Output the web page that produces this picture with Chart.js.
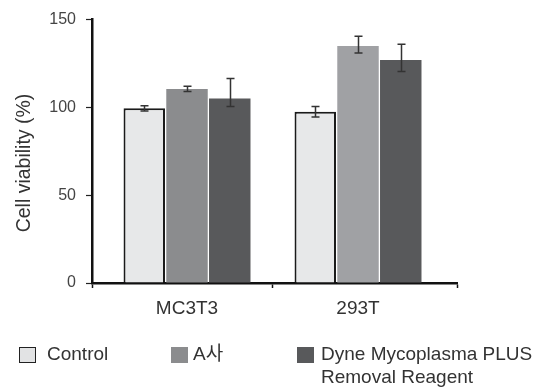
<!DOCTYPE html>
<html>
<head>
<meta charset="utf-8">
<script src="https://cdn.jsdelivr.net/npm/chart.js@4.4.1/dist/chart.umd.min.js"></script>
<style>
  html, body { margin: 0; padding: 0; background: #fff; }
  #wrap { position: relative; width: 554px; height: 392px; overflow: hidden;
          font-family: "Liberation Sans", Arial, "Noto Sans CJK KR", sans-serif; color: #333; }
  canvas { position: absolute; left: 0; top: 0; }
  .lg { position: absolute; font-size: 19px; line-height: 23px; white-space: nowrap; color: #333; }
  .box { position: absolute; width: 17px; height: 16px; box-sizing: border-box; }
</style>
</head>
<body>
<div id="wrap">
  <canvas id="c" width="554" height="392"></canvas>
  <div class="box" style="left:19px;top:347px;background:#e2e3e4;border:1.5px solid #222;"></div>
  <div class="lg" style="left:47px;top:342px;">Control</div>
  <div class="box" style="left:171px;top:347px;background:#8b8c8e;"></div>
  <div class="lg" style="left:193px;top:342px;">A사</div>
  <div class="box" style="left:297px;top:347px;background:#58595b;"></div>
  <div class="lg" style="left:321px;top:342px;">Dyne Mycoplasma PLUS<br>Removal Reagent</div>
</div>
<script>
const categories = ['MC3T3', '293T'];
const yTicks = [0, 50, 100, 150];
const yTitle = 'Cell viability (%)';

const controlValues = [99.5, 97.5];
const controlErrHigh = [101, 100.5];
const controlErrLow = [98, 94.5];

const aValues = [110.5, 135];
const aErrHigh = [112, 140.5];
const aErrLow = [109, 131];

const dyneValues = [105, 127];
const dyneErrHigh = [116.5, 136];
const dyneErrLow = [100.5, 120.5];

const errHigh = [controlErrHigh, aErrHigh, dyneErrHigh];
const errLow = [controlErrLow, aErrLow, dyneErrLow];

// category positions on a linear index axis (group centres at 0 and 1)
const xMin = -0.5556, xMax = 1.5789;
const xBoundaries = [xMin, 0.5, xMax];

const FONT = '"Liberation Sans", Arial, "Noto Sans CJK KR", sans-serif';
const toPoints = vals => vals.map((v, i) => ({ x: i, y: v }));

const errorBars = {
  id: 'errorBars',
  afterDatasetsDraw(chart) {
    const ctx = chart.ctx;
    const y = chart.scales.y;
    ctx.save();
    ctx.strokeStyle = '#333';
    ctx.lineWidth = 1.5;
    chart.data.datasets.forEach((ds, di) => {
      const meta = chart.getDatasetMeta(di);
      meta.data.forEach((bar, i) => {
        const x = Math.round(bar.x) + 0.5;
        const yt = y.getPixelForValue(errHigh[di][i]);
        const yb = y.getPixelForValue(errLow[di][i]);
        ctx.beginPath();
        ctx.moveTo(x, yt); ctx.lineTo(x, yb);
        ctx.moveTo(x - 4, yt); ctx.lineTo(x + 4, yt);
        ctx.moveTo(x - 4, yb); ctx.lineTo(x + 4, yb);
        ctx.stroke();
      });
    });
    ctx.restore();
  }
};

const yTitlePlugin = {
  id: 'yTitlePlugin',
  afterDraw(chart) {
    const ctx = chart.ctx;
    ctx.save();
    ctx.translate(25, 163);
    ctx.rotate(-Math.PI / 2);
    ctx.font = '19.5px ' + FONT;
    ctx.fillStyle = '#333';
    ctx.textAlign = 'center';
    ctx.textBaseline = 'middle';
    ctx.fillText(yTitle, 0, 0);
    ctx.restore();
  }
};

new Chart(document.getElementById('c'), {
  type: 'bar',
  data: {
    datasets: [
      { label: 'Control', data: toPoints(controlValues), backgroundColor: '#e7e8e9',
        borderColor: '#1a1a1a', borderWidth: 2 },
      { label: 'A사', data: toPoints(aValues), backgroundColor: ['#8b8c8e', '#a0a1a4'], borderWidth: 0 },
      { label: 'Dyne Mycoplasma PLUS Removal Reagent', data: toPoints(dyneValues),
        backgroundColor: '#58595b', borderWidth: 0 }
    ]
  },
  options: {
    responsive: false,
    animation: false,
    events: [],
    devicePixelRatio: 1,
    layout: { padding: { left: 0, right: 97, top: 16, bottom: 0 } },
    datasets: { bar: { categoryPercentage: 1.5, barPercentage: 0.97 } },
    plugins: { legend: { display: false }, tooltip: { enabled: false } },
    scales: {
      x: {
        type: 'linear',
        min: xMin, max: xMax,
        offset: false,
        afterBuildTicks(s) {
          s.ticks = [xBoundaries[0], 0, xBoundaries[1], 1, xBoundaries[2]].map(v => ({ value: v }));
        },
        grid: { display: true, drawOnChartArea: false, drawTicks: true, tickLength: 5, offset: false,
                tickColor: c => (c.tick && Number.isInteger(c.tick.value)) ? 'rgba(0,0,0,0)' : '#111',
                tickWidth: 1.5 },
        border: { display: true, color: '#111', width: 2.5 },
        ticks: { color: '#333', font: { family: FONT, size: 19 }, padding: 9, autoSkip: false,
                 maxRotation: 0,
                 callback: v => Number.isInteger(v) ? categories[v] : '' },
        afterFit(s) { s.height = 109; }
      },
      y: {
        min: 0, max: 150,
        afterBuildTicks(s) { s.ticks = yTicks.map(v => ({ value: v })); },
        grid: { display: true, drawOnChartArea: false, drawTicks: true, tickLength: 6,
                tickColor: '#222', tickWidth: 1.2 },
        border: { display: true, color: '#111', width: 2.5 },
        ticks: { color: '#444', font: { family: FONT, size: 16 }, padding: 10 },
        afterFit(s) { s.width = 92; }
      }
    }
  },
  plugins: [errorBars, yTitlePlugin]
});
</script>
</body>
</html>
